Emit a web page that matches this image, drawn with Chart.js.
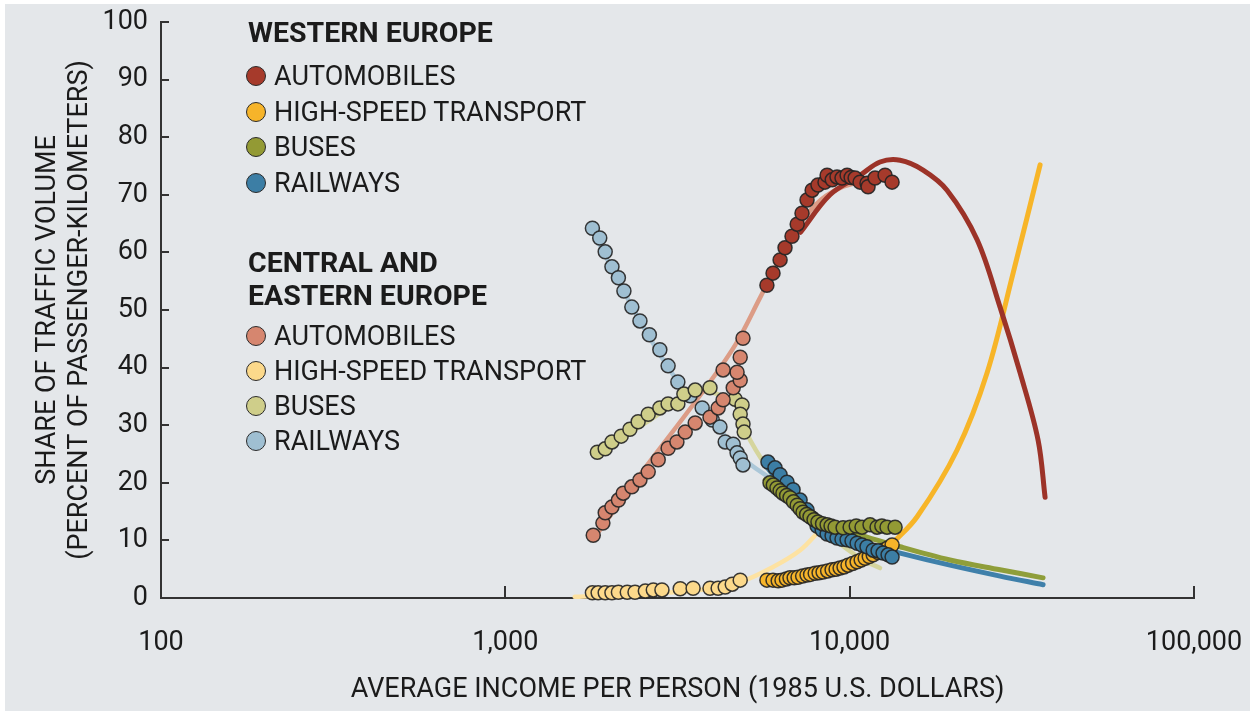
<!DOCTYPE html>
<html>
<head>
<meta charset="utf-8">
<script src="https://cdn.jsdelivr.net/npm/chart.js@4.4.0/dist/chart.umd.min.js"></script>
<style>
  html, body { margin: 0; padding: 0; background: #fff; }
  #wrap { position: relative; width: 1250px; height: 711px; background: #e4e7ea; overflow: hidden; }
  #edgeL { position: absolute; left: 0; top: 0; width: 5px; height: 711px; background: #fff; }
  #edgeT { position: absolute; left: 0; top: 0; width: 1250px; height: 4px; background: #fff; }
  canvas { position: absolute; left: 0; top: 0; }
  .lg { position: absolute; left: 0; top: 0; font-family: Roboto, "Liberation Sans", sans-serif; color: #1b1b1b; }
  .head { position: absolute; left: 248px; font-size: 28.5px; font-weight: bold; line-height: 32px; white-space: nowrap; }
  .item { position: absolute; left: 246px; height: 32px; line-height: 32px; font-size: 27px; white-space: nowrap; }
  .dot { position: absolute; left: 0; top: 6px; width: 18px; height: 18px; border-radius: 50%; border: 1.5px solid #2a2a2a; }
  .txt { position: absolute; left: 28px; top: 0; }
</style>
</head>
<body>
<div id="wrap">
  <canvas id="c" width="1250" height="711"></canvas>
  <div class="lg" id="legend"></div>
  <div id="edgeL"></div>
  <div id="edgeT"></div>
</div>
<script>
// series names and colours
const modes = ['AUTOMOBILES', 'HIGH-SPEED TRANSPORT', 'BUSES', 'RAILWAYS'];
const weDotColors = ['#a63a2b', '#f6b42a', '#939a34', '#3c7ea5'];
const ceDotColors = ['#d6866f', '#fcd98b', '#cfce8a', '#9fbfd2'];
const weLineColors = ['#9c3328', '#f7b528', '#8f9e3a', '#3f80aa'];
const ceLineColors = ['#dc9c86', '#fde2a2', '#d5d59d', '#abc7d8'];

// axis ticks
const xTickValues = [100, 1000, 10000, 100000];
const xTickLabels = ['100', '1,000', '10,000', '100,000'];

// Western Europe observations [income, share]
const weAuto = [[5750,54.3],[5990,56.4],[6280,58.7],[6490,60.8],[6800,62.8],[7040,64.9],[7270,66.8],[7520,69.1],[7780,70.8],[8090,71.7],[8480,72.2],[8600,73.4],[8900,72.6],[9190,73.1],[9500,72.9],[9830,73.4],[10100,73.0],[10370,72.9],[10720,72.2],[11230,72.0],[11310,71.4],[11850,72.9],[12670,73.4],[13280,72.2]];
const weHigh = [[5750,3.1],[5990,3.1],[6200,3.0],[6360,3.1],[6550,3.3],[6710,3.5],[6900,3.5],[7080,3.6],[7300,3.8],[7520,4.0],[7700,4.1],[7940,4.3],[8150,4.4],[8370,4.5],[8630,4.7],[8890,4.9],[9130,5.0],[9380,5.2],[9630,5.4],[9890,5.7],[10200,6.0],[10510,6.3],[10800,6.6],[11090,6.9],[11400,7.2],[11700,7.5],[12100,7.9],[12500,8.3],[12900,8.7],[13280,9.2]];
const weBus = [[5870,20.0],[6000,19.6],[6150,19.1],[6280,18.6],[6400,18.2],[6560,17.8],[6710,17.4],[6870,16.7],[7040,16.1],[7180,15.5],[7320,14.9],[7500,14.5],[7670,14.1],[7880,13.6],[8090,13.2],[8340,12.9],[8600,12.7],[8830,12.5],[9070,12.3],[9570,12.2],[10030,12.3],[10450,12.5],[10860,12.3],[11460,12.7],[12010,12.3],[12400,12.5],[12840,12.3],[13550,12.3]];
const weRail = [[5790,23.6],[6070,22.6],[6280,21.4],[6580,20.1],[6850,18.8],[7180,17.0],[7520,15.3],[7780,13.9],[8040,12.5],[8320,11.8],[8600,11.1],[8890,10.8],[9190,10.4],[9500,10.2],[9830,10.1],[10160,9.9],[10510,9.5],[10860,9.2],[11230,8.9],[11700,8.3],[12090,8.2],[12500,7.8],[12930,7.5],[13280,7.1]];

// Central and Eastern Europe observations
const ceAuto = [[1800,10.9],[1920,13.0],[1950,14.8],[2040,15.8],[2130,17.0],[2200,18.2],[2330,19.3],[2460,20.5],[2600,21.9],[2780,24.0],[2970,26.0],[3150,27.1],[3330,28.8],[3560,30.4],[3930,31.4],[4150,33.0],[4290,34.4],[4590,36.5],[4810,37.8],[4710,39.2],[4290,39.6],[4810,41.8],[4900,45.1]];
const ceHigh = [[1790,0.9],[1860,0.9],[1950,0.9],[2040,0.9],[2130,1.0],[2260,1.0],[2380,1.0],[2550,1.2],[2690,1.4],[2850,1.4],[3220,1.6],[3510,1.7],[3930,1.7],[4150,1.7],[4350,1.9],[4560,2.4],[4810,3.1]];
const ceBus = [[1850,25.3],[1950,25.9],[2040,27.1],[2170,28.1],[2300,29.3],[2430,30.6],[2600,31.9],[2810,33.0],[2970,33.7],[3170,33.7],[3300,35.4],[3560,36.1],[3930,36.5],[4650,34.5],[4870,33.5],[4810,31.9],[4900,30.2],[4940,28.8]];
const ceRail = [[1790,64.2],[1880,62.5],[1950,60.1],[2040,57.5],[2130,55.6],[2210,53.3],[2330,50.5],[2460,48.1],[2620,45.7],[2810,43.1],[2970,40.3],[3170,37.5],[3440,35.1],[3730,33.0],[3990,30.9],[4200,29.7],[4350,27.1],[4590,26.7],[4710,25.2],[4810,24.3],[4900,23.1]];

// fitted trend curves
const weAutoFit = [[7200,63.5],[8770,70.0],[10720,73.4],[12250,75.7],[14010,76.0],[16340,74.3],[19180,70.8],[23450,62.2],[27340,50.5],[31260,39.1],[35260,27.4],[36940,17.5]];
const weHighFit = [[13280,9.4],[15700,14.1],[20510,25.7],[25070,39.1],[29830,56.4],[35730,75.2]];
const weBusFit = [[5680,20.5],[6710,17.0],[8200,13.5],[10030,11.5],[14010,8.9],[19560,6.6],[27340,4.9],[36450,3.5]];
const weRailFit = [[5680,23.1],[6710,17.9],[8200,12.7],[10030,10.1],[14010,7.8],[19560,5.7],[27340,3.8],[36450,2.3]];
const ceAutoFit = [[1820,10.6],[2460,21.4],[3680,35.2],[4650,43.9],[5490,52.1],[6710,62.2],[7940,68.2],[9380,71.2],[11460,72.6]];
const ceHighFit = [[1590,0.2],[2460,0.7],[3680,1.4],[4810,2.8],[5990,5.4],[7180,8.3],[8200,11.8]];
const ceBusFit = [[1846,24.8],[2630,30.9],[3680,35.8],[4650,33.5],[5140,27.4],[6070,20.8],[7180,16.1],[8770,10.9],[10720,6.9],[12250,5.2]];
const ceRailFit = [[1760,64.6],[2460,48.1],[3220,37.0],[4200,29.2],[4970,24.0],[5870,20.8]];

const FONT = 'Roboto, "Liberation Sans", sans-serif';
const toXY = arr => arr.map(p => ({ x: p[0], y: p[1] }));

const weDots = [weAuto, weHigh, weBus, weRail];
const ceDots = [ceAuto, ceHigh, ceBus, ceRail];
const weFits = [weAutoFit, weHighFit, weBusFit, weRailFit];
const ceFits = [ceAutoFit, ceHighFit, ceBusFit, ceRailFit];
// lower order is drawn on top: autos, buses, railways, high-speed
const dotOrder = [1, 4, 2, 3];

function dotSet(data, color, order) {
  return {
    data: toXY(data), showLine: false, pointRadius: 7, pointHoverRadius: 7,
    backgroundColor: color, borderColor: 'rgba(35,35,35,0.9)', borderWidth: 1.5,
    order: order, clip: false
  };
}
function fitSet(data, color, width, order) {
  return {
    data: toXY(data), showLine: true, pointRadius: 0, borderColor: color,
    borderWidth: width, tension: 0.35, fill: false,
    borderCapStyle: 'round', borderJoinStyle: 'round', order: order, clip: false
  };
}

const datasets = [];
ceFits.forEach((d, i) => datasets.push(fitSet(d, ceLineColors[i], 4.5, 40 + i)));
weFits.forEach((d, i) => datasets.push(fitSet(d, weLineColors[i], 5, 30 + i)));
ceDots.forEach((d, i) => datasets.push(dotSet(d, ceDotColors[i], 20 + dotOrder[i])));
weDots.forEach((d, i) => datasets.push(dotSet(d, weDotColors[i], dotOrder[i])));

// inward ticks on both axes
const innerTicks = {
  id: 'innerTicks',
  beforeDatasetsDraw(chart) {
    const { ctx, scales: { x, y } } = chart;
    ctx.save();
    ctx.strokeStyle = '#333';
    ctx.lineWidth = 2;
    ctx.beginPath();
    y.ticks.forEach(t => {
      if (t.value === 0) return;
      const py = Math.round(y.getPixelForValue(t.value));
      ctx.moveTo(x.left, py); ctx.lineTo(x.left + 8, py);
    });
    xTickValues.slice(1).forEach(v => {
      const px = Math.round(x.getPixelForValue(v));
      ctx.moveTo(px, y.bottom); ctx.lineTo(px, y.bottom - 12);
    });
    ctx.stroke();
    ctx.restore();
  }
};

new Chart(document.getElementById('c'), {
  type: 'scatter',
  data: { datasets },
  options: {
    responsive: false,
    animation: false,
    events: [],
    layout: { padding: { top: 22, right: 56, left: 0, bottom: 0 } },
    plugins: { legend: { display: false }, tooltip: { enabled: false } },
    scales: {
      x: {
        type: 'logarithmic', min: 100, max: 100000,
        afterBuildTicks: s => { s.ticks = xTickValues.map(v => ({ value: v })); },
        afterFit: s => { s.height = 113; s.paddingLeft = 0; s.paddingRight = 0; },
        grid: { display: false, drawTicks: false },
        border: { display: true, color: '#333', width: 2 },
        ticks: {
          color: '#1b1b1b', font: { family: FONT, size: 27 }, padding: 29,
          autoSkip: false, maxRotation: 0,
          callback: v => { const i = xTickValues.indexOf(v); return i >= 0 ? xTickLabels[i] : ''; }
        },
        title: {
          display: true, text: 'AVERAGE INCOME PER PERSON (1985 U.S. DOLLARS)',
          color: '#1b1b1b', font: { family: FONT, size: 27 }, padding: { top: 0, bottom: 5 }
        }
      },
      y: {
        min: 0, max: 100,
        afterFit: s => { s.width = 161; s.paddingTop = 0; s.paddingBottom = 0; },
        grid: { display: false, drawTicks: false },
        border: { display: true, color: '#333', width: 2 },
        ticks: { stepSize: 10, color: '#1b1b1b', font: { family: FONT, size: 27 }, padding: 13 },
        title: {
          display: true,
          text: ['SHARE OF TRAFFIC VOLUME', '(PERCENT OF PASSENGER-KILOMETERS)'],
          color: '#1b1b1b', font: { family: FONT, size: 27, lineHeight: 1.2 }, padding: { top: 32, bottom: 0 }
        }
      }
    }
  },
  plugins: [innerTicks]
});

// legend built from the same series names and colours
const legend = document.getElementById('legend');
function addHead(text, cy) {
  const d = document.createElement('div');
  d.className = 'head'; d.style.top = (cy - 16) + 'px'; d.textContent = text;
  legend.appendChild(d);
}
function addItem(text, color, cy) {
  const d = document.createElement('div');
  d.className = 'item'; d.style.top = (cy - 16) + 'px';
  const dot = document.createElement('span'); dot.className = 'dot'; dot.style.background = color;
  const t = document.createElement('span'); t.className = 'txt'; t.textContent = text;
  d.appendChild(dot); d.appendChild(t);
  legend.appendChild(d);
}
addHead('WESTERN EUROPE', 33);
[76, 112, 147, 183].forEach((cy, i) => addItem(modes[i], weDotColors[i], cy));
addHead('CENTRAL AND', 263);
addHead('EASTERN EUROPE', 296);
[336, 371, 406, 441].forEach((cy, i) => addItem(modes[i], ceDotColors[i], cy));
</script>
</body>
</html>
